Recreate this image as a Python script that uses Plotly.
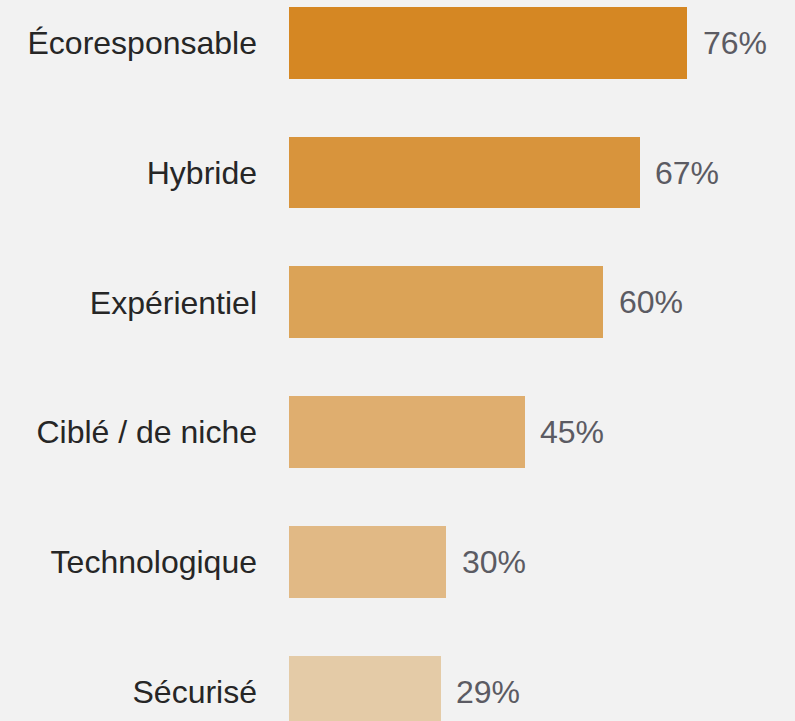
import plotly.graph_objects as go

categories = ["Écoresponsable", "Hybride", "Expérientiel", "Ciblé / de niche", "Technologique", "Sécurisé"]
values = [76, 67, 60, 45, 30, 29]
value_labels = ["76%", "67%", "60%", "45%", "30%", "29%"]
bar_colors = ["#d58723", "#d8943c", "#dba357", "#dfae6f", "#e1b985", "#e4cba7"]

fig = go.Figure()
fig.add_trace(go.Bar(
    x=values, y=categories, orientation="h",
    marker=dict(color=bar_colors, line=dict(width=0)),
    width=0.553, hoverinfo="skip",
))
for c, v, t in zip(categories, values, value_labels):
    fig.add_annotation(x=v, y=c, text=t, showarrow=False, xanchor="left", yanchor="middle",
                       xshift=13.5, font=dict(size=32, color="#5b5b63", family="Liberation Sans"))

fig.update_layout(
    width=795, height=721,
    margin=dict(l=289, r=0, t=0, b=0),
    paper_bgcolor="#f2f2f2", plot_bgcolor="#f2f2f2",
    showlegend=False,
    font=dict(family="Liberation Sans", size=32, color="#262626"),
    bargap=0,
)
fig.update_xaxes(range=[0, 96.6], showgrid=False, zeroline=False, showticklabels=False, showline=False)
fig.update_yaxes(type="category", categoryorder="array", categoryarray=categories,
                 range=[5.2266, -0.33], autorange=False, showgrid=False, zeroline=False,
                 showline=False, ticks="", ticklabelstandoff=31,
                 tickfont=dict(size=32, color="#262626", family="Liberation Sans"))
fig.write_html("out.html")
